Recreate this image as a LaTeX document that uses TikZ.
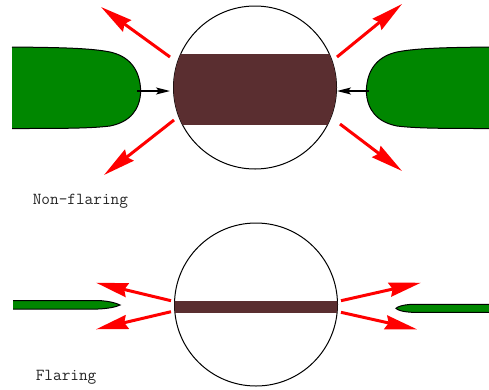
\documentclass[tikz,border=0pt]{standalone}
\usetikzlibrary{arrows.meta}
\tikzset{>={Stealth[length=14pt, width=7pt, inset=3pt]}}
\definecolor{leaf}{RGB}{0,135,0}
\definecolor{band}{RGB}{90,46,48}

\begin{document}
\begin{tikzpicture}[x=1pt, y=-1pt, line width=1pt,
    flare/.style={red, line width=3pt, -{Stealth[length=32pt, width=14pt, inset=3pt]}},
    label/.style={anchor=base west, text=black!85, font=\ttfamily\fontsize{16.8}{18}\selectfont}]
    \useasboundingbox(0, 0)rectangle(489, 389);
    \coordinate(top)at(255, 87.5);
    \coordinate(bot)at(256, 304.5);
    \draw(top)circle[radius=81.5];
    \draw(bot)circle[radius=81.5];
    \begin{scope}
        \clip(top)circle[radius=81.5];
        \fill[band](170, 54)rectangle(340, 125);
    \end{scope}
    \begin{scope}
        \clip(bot)circle[radius=81.5];
        \fill[band](170, 300.7)rectangle(340, 312.7);
    \end{scope}
    \filldraw[fill=leaf](12, 47)..controls(60, 47.5)and(90, 48)..(110, 52)
        ..controls(128, 56)and(140, 68)..(140.7, 91)
        ..controls(140, 110)and(130, 122)..(110, 126)
        ..controls(90, 128.5)and(60, 128.5)..(12, 128.5);
    \filldraw[fill=leaf](489, 47)..controls(447, 47.5)and(417, 48)..(397, 52)
        ..controls(379, 56)and(367, 68)..(366.3, 91)
        ..controls(367, 110)and(377, 122)..(397, 126)
        ..controls(417, 128.5)and(447, 128.5)..(489, 128.5);
    \filldraw[fill=leaf](13, 300.5)--(98, 300.5)..controls(110, 301)and(117, 303.5)..(120, 305)
        ..controls(117, 306.5)and(110, 308.5)..(98, 309)--(13, 309);
    \filldraw[fill=leaf](489, 304.3)--(412, 304.3)..controls(402, 304.8)and(397, 307)..(396, 308.3)
        ..controls(397, 309.8)and(402, 311.8)..(412, 312.3)--(489, 312.3);
    \coordinate(lp)at(137, 91);
    \coordinate(lq)at(170, 91);
    \coordinate(rp)at(369, 91);
    \coordinate(rq)at(337, 91);
    \draw[->, line width=1.5pt](lp)--(lq);
    \draw[->, line width=1.5pt](rp)--(rq);
    \coordinate(a1)at(170, 57);    \coordinate(b1)at(101, 7);
    \coordinate(a2)at(174, 120);   \coordinate(b2)at(104, 175);
    \coordinate(a3)at(337, 57);    \coordinate(b3)at(402, 4);
    \coordinate(a4)at(340, 124);   \coordinate(b4)at(402, 171);
    \coordinate(a5)at(171, 300.7); \coordinate(b5)at(96, 282.7);
    \coordinate(a6)at(171, 311.7); \coordinate(b6)at(96, 329.3);
    \coordinate(a7)at(341, 300.7); \coordinate(b7)at(421, 282.7);
    \coordinate(a8)at(341, 312.3); \coordinate(b8)at(417, 329.3);
    \foreach \i in {1,...,8}
        \draw[flare](a\i)--(b\i);
    \node[label](nonflaring)at(29, 204){Non-flaring};
    \node[label](flaring)at(32, 380){Flaring};
\end{tikzpicture}
\end{document}
